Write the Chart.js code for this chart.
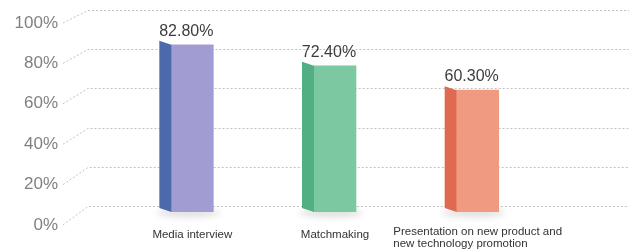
<!DOCTYPE html>
<html>
<head>
<meta charset="utf-8">
<script src="https://cdn.jsdelivr.net/npm/chart.js@4.4.1/dist/chart.umd.min.js"></script>
<style>
  html, body { margin: 0; padding: 0; background: #fff; }
  #wrap { width: 629px; height: 251px; }
</style>
</head>
<body>
<div id="wrap"><canvas id="chart"></canvas></div>
<script>
// Chart data
const categories = ['Media interview', 'Matchmaking', ['Presentation on new product and', 'new technology promotion']];
const shares = [82.8, 72.4, 60.3];
const shareLabels = ['82.80%', '72.40%', '60.30%'];
const tickValues = [0, 20, 40, 60, 80, 100];

// Bar colours (front face / left side face)
const frontColors = ['#a19dd2', '#7cc8a1', '#f09a82'];
const sideColors = ['#4c6aab', '#52ae83', '#e06a4f'];

const FONT = "'Liberation Sans', Arial, sans-serif";
const SIDE_W = 12;   // depth of the side face
const SIDE_UP = 4;

// Dotted grid with the perspective step from the label to the back wall
const gridPlugin = {
    id: 'perspectiveGrid',
    beforeDatasetsDraw(chart) {
        const ctx = chart.ctx;
        const y = chart.scales.y;
        const back = chart.scales.back;
        ctx.save();
        ctx.strokeStyle = '#c2c2c2';
        ctx.lineWidth = 1;
        ctx.setLineDash([2, 2]);
        tickValues.forEach(v => {
            const yb = Math.round(back.getPixelForValue(v)) + 0.5;
            const yf = y.getPixelForValue(v) + 13;
            ctx.beginPath();
            ctx.moveTo(63, yf);
            ctx.lineTo(88, yb);
            ctx.lineTo(chart.width, yb);
            ctx.stroke();
        });
        ctx.restore();
    }
};

// Side faces, shadows, value labels and category labels
const barDecor = {
    id: 'barDecor',
    beforeDatasetsDraw(chart) {
        const ctx = chart.ctx;
        const meta = chart.getDatasetMeta(0);
        ctx.save();
        ctx.filter = 'blur(3px)';
        ctx.fillStyle = 'rgba(0,0,0,0.13)';
        meta.data.forEach(bar => {
            ctx.beginPath();
            ctx.ellipse(bar.x - 4, bar.base + 1, 32, 4, 0, 0, Math.PI * 2);
            ctx.fill();
        });
        ctx.restore();
    },
    afterDatasetsDraw(chart) {
        const ctx = chart.ctx;
        const meta = chart.getDatasetMeta(0);
        const x = chart.scales.x;
        ctx.save();
        meta.data.forEach((bar, i) => {
            const left = bar.x - bar.width / 2;
            ctx.fillStyle = sideColors[i];
            ctx.beginPath();
            ctx.moveTo(left, bar.y);
            ctx.lineTo(left - SIDE_W, bar.y - SIDE_UP);
            ctx.lineTo(left - SIDE_W, bar.base - SIDE_UP);
            ctx.lineTo(left, bar.base);
            ctx.closePath();
            ctx.fill();

            ctx.fillStyle = '#3d3d3d';
            ctx.font = '16px ' + FONT;
            ctx.textAlign = 'center';
            ctx.textBaseline = 'alphabetic';
            ctx.fillText(shareLabels[i], bar.x - 6, bar.y - 9);
        });

        // category labels: left aligned lines, block centred on the tick
        ctx.font = '11.5px ' + FONT;
        ctx.fillStyle = '#333';
        ctx.textAlign = 'left';
        ctx.textBaseline = 'middle';
        categories.forEach((label, i) => {
            const lines = Array.isArray(label) ? label : [label];
            const w = Math.max(...lines.map(l => ctx.measureText(l).width));
            const cx = x.getPixelForValue(i);
            const top = lines.length > 1 ? 232 : 235;
            lines.forEach((l, k) => ctx.fillText(l, cx - w / 2, top + k * 11.5));
        });
        ctx.restore();
    }
};

new Chart(document.getElementById('chart'), {
    type: 'bar',
    data: {
        labels: categories,
        datasets: [{
            data: shares,
            backgroundColor: frontColors,
            borderWidth: 0,
            barThickness: 42
        }]
    },
    options: {
        responsive: true,
        maintainAspectRatio: false,
        animation: false,
        events: [],
        layout: { padding: { top: 10, right: 80, bottom: 39, left: 0 } },
        plugins: {
            legend: { display: false },
            tooltip: { enabled: false }
        },
        scales: {
            x: { display: false },
            y: {
                min: 0,
                max: 100,
                afterFit: s => {
                    s.width = 121;
                    s.paddingTop = 0;
                    s.paddingBottom = 0;
                },
                afterBuildTicks: s => { s.ticks = tickValues.map(v => ({ value: v })); },
                grid: { display: false },
                border: { display: false },
                ticks: {
                    autoSkip: false,
                    padding: 55,
                    labelOffset: 13,
                    color: '#808080',
                    font: { family: FONT, size: 17 },
                    callback: v => v + '%'
                }
            },
            back: {
                display: false,
                position: 'left',
                min: -3,
                max: 100
            }
        }
    },
    plugins: [gridPlugin, barDecor]
});
</script>
</body>
</html>
